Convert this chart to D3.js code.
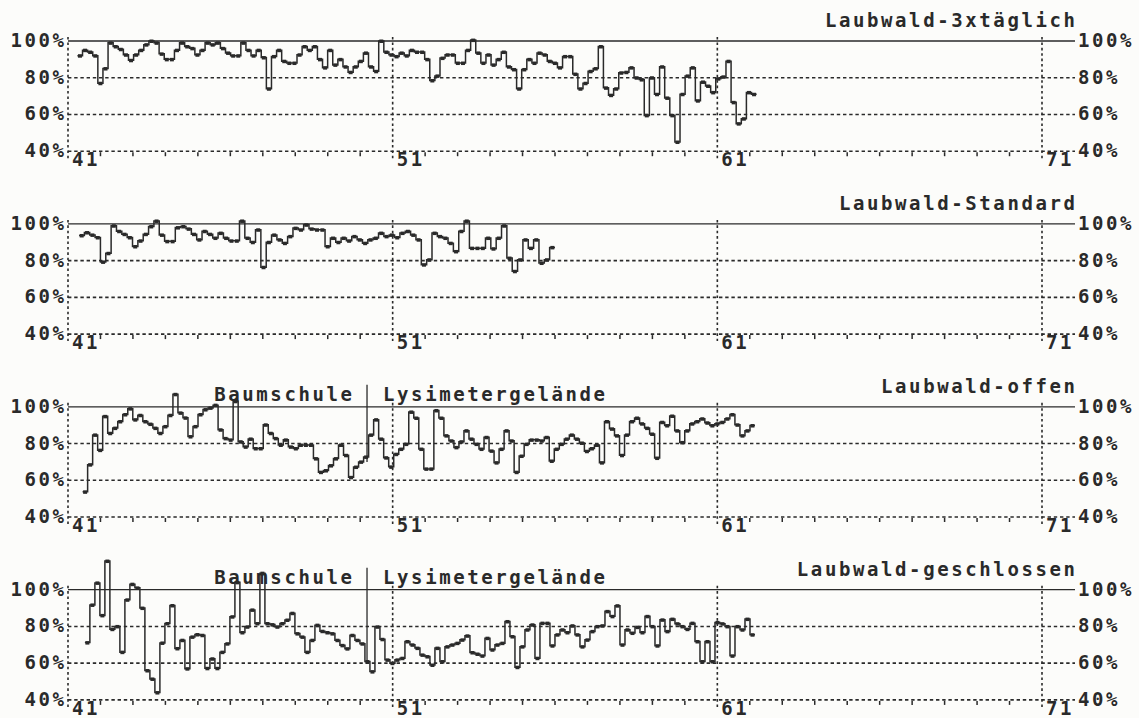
<!DOCTYPE html>
<html>
<head>
<meta charset="utf-8">
<script src="https://cdn.jsdelivr.net/npm/d3@7"></script>
<style>
  body { margin: 0; background: #fcfcfa; }
  svg { display: block; }
  text { font-family: "DejaVu Sans Mono", monospace; fill: #2a2a2a; }
</style>
</head>
<body>
<div id="chart"></div>
<script>
'use strict';

// Panel titles
const titles = ["Laubwald-3xtäglich", "Laubwald-Standard", "Laubwald-offen", "Laubwald-geschlossen"];
const yTicks = [40, 60, 80, 100];
const xMajor = [41, 51, 61, 71];
const xMinor = d3.range(42, 71).filter(d => !xMajor.includes(d));

// Time span of every series (years on the x axis)
const spans = [[41.29, 62.21], [41.34, 56.0], [41.45, 62.16], [41.52, 62.16]];

// Values in %
const s3xtaeglich = [92, 95, 94, 92, 77, 85, 99, 97, 95.5, 92.5, 89.5, 92.5, 95, 98, 100, 99, 93, 90, 90, 95,
  99, 97, 96, 92.5, 95, 99, 98, 99, 96, 93.5, 92, 92, 99, 95, 92, 95, 91, 74, 91.6, 95,
  89, 88, 88, 92.5, 97, 95, 97, 90, 85.5, 95, 87, 90, 86, 83, 86, 89, 93.5, 86, 83.5, 100,
  94, 92.5, 91.6, 93.5, 92, 95, 94, 94, 90, 78.5, 81, 90.7, 92.5, 92.5, 88, 88, 95, 100.5, 93.5, 88,
  92.5, 87, 90, 94, 86, 84.5, 74, 84.5, 90, 88, 93.5, 92.5, 89, 88, 85.5, 91.6, 91.6, 82, 74, 77,
  83.5, 85, 97, 74.5, 70.5, 74, 82.7, 83, 85.5, 80, 79, 59.5, 80, 71, 86, 69, 59.5, 45, 71, 81,
  85.5, 67.5, 77.7, 75.5, 72, 79.5, 80.5, 89, 66.6, 55, 57.7, 72, 71];

const sStandard = [93.7, 95.3, 94, 92.6, 79.3, 84, 99, 96, 94.4, 92.6, 87.7, 90.8, 94.4, 98.6, 101.6, 94, 90.5, 90.5, 98, 98.6,
  97.3, 94.4, 91.4, 96, 94.4, 92.3, 95, 92.3, 90.8, 90.8, 101.6, 92.3, 90, 96.8, 76.4, 90, 94, 91.4, 89.5, 93.2,
  97.7, 96.8, 99.5, 97.3, 96.8, 96.8, 87.7, 92.3, 90, 92.3, 90.8, 93.2, 91.4, 89.5, 91.4, 92.3, 95, 93.2, 94, 92.6,
  95, 96, 94, 91.4, 77.8, 80.5, 95, 93.2, 92.3, 89.5, 85, 96, 101.6, 86.8, 86.8, 86.8, 92.3, 86.5, 92.3, 99,
  81.4, 74.2, 80.5, 91.4, 86.8, 91.4, 78.7, 80.5, 87.2];

const sOffen = [53.7, 68.5, 84.7, 76.4, 94.8, 85.6, 88.4, 92, 95.8, 99, 93, 95.4, 92, 90.6, 88.4, 85.6, 89.3, 95.4, 106.8, 96.7,
  94, 83.8, 89.3, 95.8, 98.5, 99.4, 100.9, 87.5, 82.8, 82, 103, 81, 78.2, 82.5, 77.3, 77.3, 90.2, 85.6, 82.8, 79.2,
  82, 78.2, 77.3, 79.2, 79.2, 79.2, 71.8, 64.4, 65.3, 68, 71.8, 79.2, 73.6, 61.6, 67.2, 70, 72.7, 84.7, 93,
  82.5, 72.3, 67.3, 74.2, 77, 79.7, 97.2, 93.9, 77, 66.2, 66.2, 98, 93.9, 84.3, 81.5, 77.9, 81, 87, 82.5, 79.7,
  77, 83.4, 76, 69.6, 77, 87, 81.5, 64.4, 73.2, 79.7, 82, 82, 81.5, 83.4, 70.5, 77, 79.7, 82.5, 84.7, 82.5,
  80.3, 75.8, 77.3, 79.2, 69.6, 92, 88, 84.3, 73.6, 84.7, 92, 93.9, 90.8, 88.4, 85.2, 72.1, 91.6, 89.8, 95, 87,
  80.6, 87, 90.8, 92, 93.5, 91.3, 89.8, 90.8, 91.6, 93.5, 95.8, 90.2, 84.3, 87, 89.8];

const sGeschlossen = [71.2, 91.7, 103.7, 86, 115.6, 78.5, 80, 66, 94.5, 103, 101, 90, 56, 51.4, 44, 71, 81.6, 91.4, 68, 72.5,
  57, 74.3, 75.6, 75.2, 57.2, 62.4, 57.2, 66,
  70.6, 85.3, 104, 76.7, 79.8, 89, 81.6, 109, 81.6, 81, 79.8, 81.6, 83.5, 87.2, 76.1, 74.3, 66, 72.5, 80.7, 77.4,
  76.7, 76.1, 72.5, 69.7, 67.9, 75.2, 72.5, 70.6, 60.9, 55.4, 79.8,
  73, 61.8, 60, 61.8, 62.7, 71.8, 70, 68.2, 64.5, 63.6, 59, 68.2, 60.9, 69, 70, 70.9, 72.7, 74.9, 65.8, 65,
  64, 73.6, 67.3, 70, 70.9, 82.7, 74.5, 57.8, 69, 78.2, 80.9, 62.7, 81.8, 81.8, 69.5, 75.5, 78.2, 76.7, 80.4, 75.5,
  69, 72.7, 77.3, 80, 80.4, 88.2, 85.5, 91.3, 70, 78.2, 76.4, 79.6, 76.7, 85.5, 80, 69.5, 83.6, 77.3, 84, 81.5,
  80, 78.5, 81.8, 71.8, 60.9, 71.8, 60.9, 82.2, 81.5, 80, 64, 80, 78.2, 84, 75.5];

const series = [s3xtaeglich, sStandard, sOffen, sGeschlossen];

// "Baumschule | Lysimetergelände" note on the last two panels
const siteNote = {panels: [2, 3], left: "Baumschule", right: "Lysimetergelände", year: 50.21};

(function () {
  const width = 1139, height = 718;
  const ink = "#2a2a2a";
  const fontSize = 19, spacing = 2.6;

  const svg = d3.select("#chart").append("svg")
    .attr("width", width).attr("height", height);

  const x = d3.scaleLinear().domain([41, 71]).range([68, 1042]);
  const gridRight = 1075;

  function label(g, txt, px, py, anchor) {
    return g.append("text")
      .attr("x", anchor === "end" ? px + spacing : px).attr("y", py)
      .attr("text-anchor", anchor || "start")
      .attr("font-size", fontSize)
      .attr("font-weight", "bold")
      .attr("letter-spacing", spacing)
      .text(txt);
  }

  series.forEach((values, p) => {
    const top = 41 + p * 182.9;
    const bottom = top + 110.2;
    const y = d3.scaleLinear().domain([40, 100]).range([bottom, top]);
    const g = svg.append("g");

    // horizontal grid: dotted, 100% solid
    yTicks.forEach(t => {
      g.append("line")
        .attr("x1", x(41)).attr("x2", gridRight)
        .attr("y1", y(t)).attr("y2", y(t))
        .attr("stroke", ink)
        .attr("stroke-width", t === 100 ? 1.3 : 1.6)
        .attr("stroke-dasharray", t === 100 ? null : "3.4,2.8");
      label(g, t + "%", 64, y(t) + 6, "end");
      label(g, t + "%", 1078, y(t) + 6);
    });

    // vertical dotted grid lines at the decades
    xMajor.forEach(d => {
      g.append("line")
        .attr("x1", x(d)).attr("x2", x(d))
        .attr("y1", top - 4).attr("y2", bottom + 7)
        .attr("stroke", ink).attr("stroke-width", 1.6)
        .attr("stroke-dasharray", "2.6,2.8");
      label(g, d, x(d) + 4, bottom + 15);
    });

    // yearly ticks under the axis
    g.selectAll("line.minor").data(xMinor).join("line")
      .attr("class", "minor")
      .attr("x1", d => x(d)).attr("x2", d => x(d))
      .attr("y1", bottom + 1).attr("y2", bottom + 5)
      .attr("stroke", ink).attr("stroke-width", 1.5);

    // title
    label(g, titles[p], gridRight, top - 14, "end");

    // step series
    const [t0, t1] = spans[p];
    const step = (t1 - t0) / values.length;
    const pts = values.map((v, i) => [t0 + i * step, v]);
    const pathPts = pts.concat([[t1, values[values.length - 1]]]);

    if (siteNote.panels.includes(p)) {
      const idx = Math.min(values.length - 1, Math.max(0, Math.floor((siteNote.year - t0) / step)));
      const prev = values[Math.max(0, idx - 1)];
      const low = Math.min(prev, values[idx]);
      g.append("line")
        .attr("x1", x(siteNote.year)).attr("x2", x(siteNote.year))
        .attr("y1", top - 22).attr("y2", y(low))
        .attr("stroke", ink).attr("stroke-width", 1.3);
      label(g, siteNote.left, x(siteNote.year) - 15, top - 6, "end");
      label(g, siteNote.right, x(siteNote.year) + 16, top - 6);
    }

    const line = d3.line()
      .x(d => x(d[0]))
      .y(d => y(d[1]))
      .curve(d3.curveStepAfter);

    g.append("path")
      .datum(pathPts)
      .attr("d", line)
      .attr("fill", "none")
      .attr("stroke", ink)
      .attr("stroke-width", 1.5);

    const w = x(t0 + step) - x(t0);
    g.selectAll("rect.pt").data(pts).join("rect")
      .attr("class", "pt")
      .attr("x", d => x(d[0]) + w / 2 - 2)
      .attr("y", d => y(d[1]) - 1.5)
      .attr("width", 4).attr("height", 3.5)
      .attr("fill", ink);
  });
})();
</script>
</body>
</html>
